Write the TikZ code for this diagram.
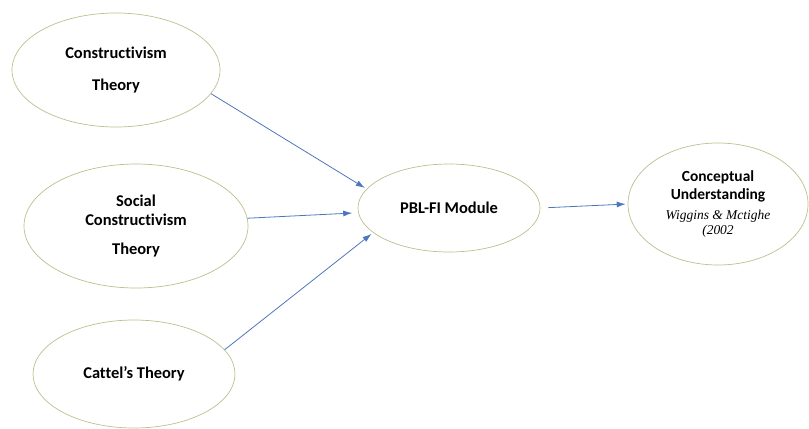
\documentclass[tikz,border=0pt]{standalone}
\usepackage{fontspec}
\setmainfont{Carlito}[Ligatures=NoCommon]
\newfontfamily\refont{Liberation Serif}
\newcommand{\srcfont}{\refont\mdseries\itshape\fontsize{13.5}{14}\selectfont}
\usepackage{tikz}
\usetikzlibrary{
shapes,
shapes.geometric,
arrows,
arrows.meta,
positioning,
calc
}
\definecolor{rimcol}{RGB}{186,192,142}
\definecolor{arrcol}{RGB}{78,118,186}

\begin{document}
\begin{tikzpicture}[x=1bp,y=-1bp,
      theory/.style={ellipse,draw=rimcol,line width=0.7pt,inner sep=0pt,align=center,font=\bfseries\fontsize{16.5}{20}\selectfont},
      link/.style={-{Latex[length=9pt,width=6pt]},arrcol,line width=0.8pt}]
      \useasboundingbox (0,0) rectangle (809,428);
         \node[theory,minimum width=208bp,minimum height=114bp] (cons) at (116,70) {Constructivism\\[12pt]Theory};
         \node[theory,minimum width=224bp,minimum height=124bp] (social) at (136,226) {Social\\Constructivism\\[9pt]Theory};
         \node[theory,minimum width=202bp,minimum height=108bp] (cattel) at (134,374) {Cattel’s Theory};
         \node[theory,minimum width=182bp,minimum height=88bp] (pbl) at (449,208) {PBL-FI Module};
         \node[theory,minimum width=180bp,minimum height=122bp,font=\bfseries\fontsize{15.5}{18}\selectfont] (concept) at (718,204)
            {Conceptual\\Understanding\\[3pt]{\srcfont Wiggins \& Mctighe}\\[-3pt]{\srcfont (2002}};
         \draw[link,shorten >=2pt] (cons.-14) -- (pbl.167);
         \draw[link,shorten >=6pt] (social.4) -- (pbl.183);
         \draw[link,shorten >=2pt] (cattel.15) -- (pbl.198);
         \draw[link,shorten <=8pt,shorten >=2pt] (pbl.east) -- (concept.west);
    \end{tikzpicture}
\end{document}
